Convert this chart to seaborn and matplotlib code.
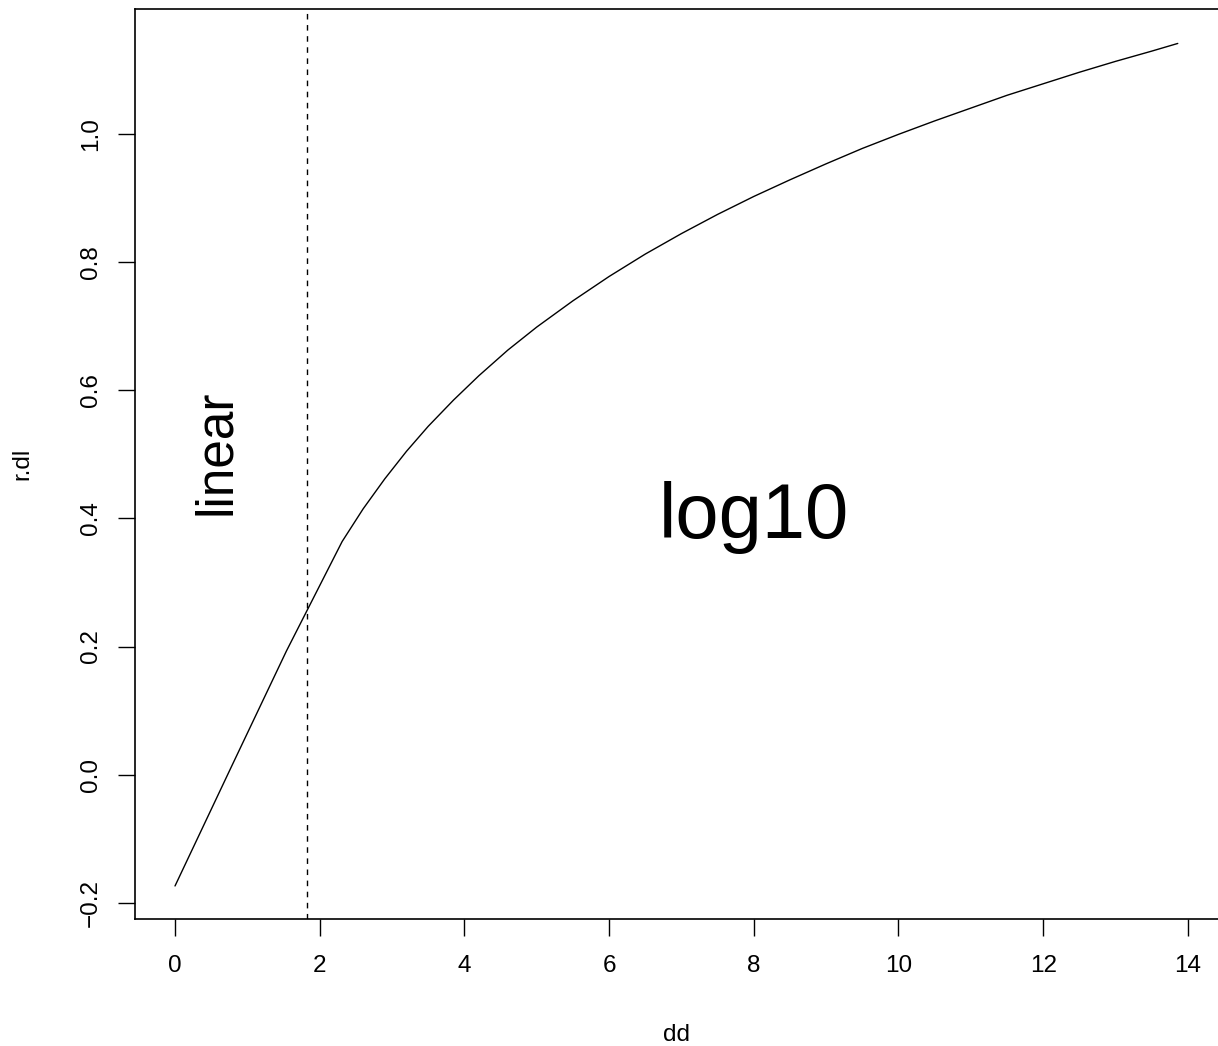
import matplotlib
matplotlib.use("Agg")
import matplotlib.pyplot as plt
import seaborn as sns
import pandas as pd

# values (straight below the cut, smooth log10-like curve above)
dd = [0.00, 0.77, 1.54, 2.31, 2.60, 2.90, 3.20, 3.50, 3.85, 4.20,
      4.60, 5.00, 5.50, 6.00, 6.50, 7.00, 7.50, 8.00, 8.50, 9.00,
      9.50, 10.00, 10.50, 11.00, 11.50, 12.00, 12.50, 13.00, 13.50, 13.86]
r_dl = [-0.174, 0.010, 0.193, 0.364, 0.415, 0.462, 0.505, 0.544, 0.585, 0.623,
        0.663, 0.699, 0.740, 0.778, 0.813, 0.845, 0.875, 0.903, 0.929, 0.954,
        0.978, 1.000, 1.021, 1.041, 1.061, 1.079, 1.097, 1.114, 1.130, 1.142]
cut = 1.82
x_ticks = [0, 2, 4, 6, 8, 10, 12, 14]
y_ticks = [-0.2, 0.0, 0.2, 0.4, 0.6, 0.8, 1.0]

df = pd.DataFrame({"dd": dd, "r.dl": r_dl})

sns.set_style("ticks")
plt.rcParams['font.family'] = ['Liberation Sans', 'DejaVu Sans']
plt.rcParams['text.color'] = 'black'

W, H = 1218, 1046
fig = plt.figure(figsize=(W / 100, H / 100), dpi=100)
# plot box in pixels: left 135, right 1219 (cut off by the image edge), top 9, bottom 919
ax = fig.add_axes([135 / W, (H - 919) / H, (1219 - 135) / W, (919 - 9) / H])

sns.lineplot(data=df, x="dd", y="r.dl", ax=ax, color="black", linewidth=1.0,
             estimator=None, sort=False)
ax.axvline(cut, color="black", linewidth=1.0, linestyle=(0, (4, 4)))

ax.set_xlim(-0.553, 14.43)
ax.set_ylim(-0.2256, 1.1958)
ax.set_xticks(x_ticks)
ax.set_xticklabels([str(t) for t in x_ticks])
ax.set_yticks(y_ticks)
ax.set_yticklabels([f"{t:.1f}".replace("-", "\u2212") for t in y_ticks])

ax.tick_params(axis="both", direction="out", length=12, width=1.0,
               labelsize=17.5, color="black", labelcolor="black")
ax.tick_params(axis="x", pad=14)
ax.tick_params(axis="y", pad=12, labelrotation=90)
for lab in ax.get_yticklabels():
    lab.set_va("center")

for s in ax.spines.values():
    s.set_color("black")
    s.set_linewidth(1.2)
ax.spines["right"].set_visible(False)

ax.set_xlabel("")
ax.set_ylabel("")
fig.text(677 / W, 1 - 1041 / H, "dd", ha="center", va="baseline", fontsize=17.5)
fig.text(28 / W, 1 - 464 / H, "r.dl", ha="center", va="baseline", fontsize=17.5,
         rotation=90, rotation_mode="anchor")

ax.text(0.76, 0.503, "linear", rotation=90, rotation_mode="anchor",
        ha="center", va="baseline", fontsize=37)
ax.text(8.0, 0.369, "log10", ha="center", va="baseline", fontsize=56)

fig.savefig("out.png", dpi=100)
